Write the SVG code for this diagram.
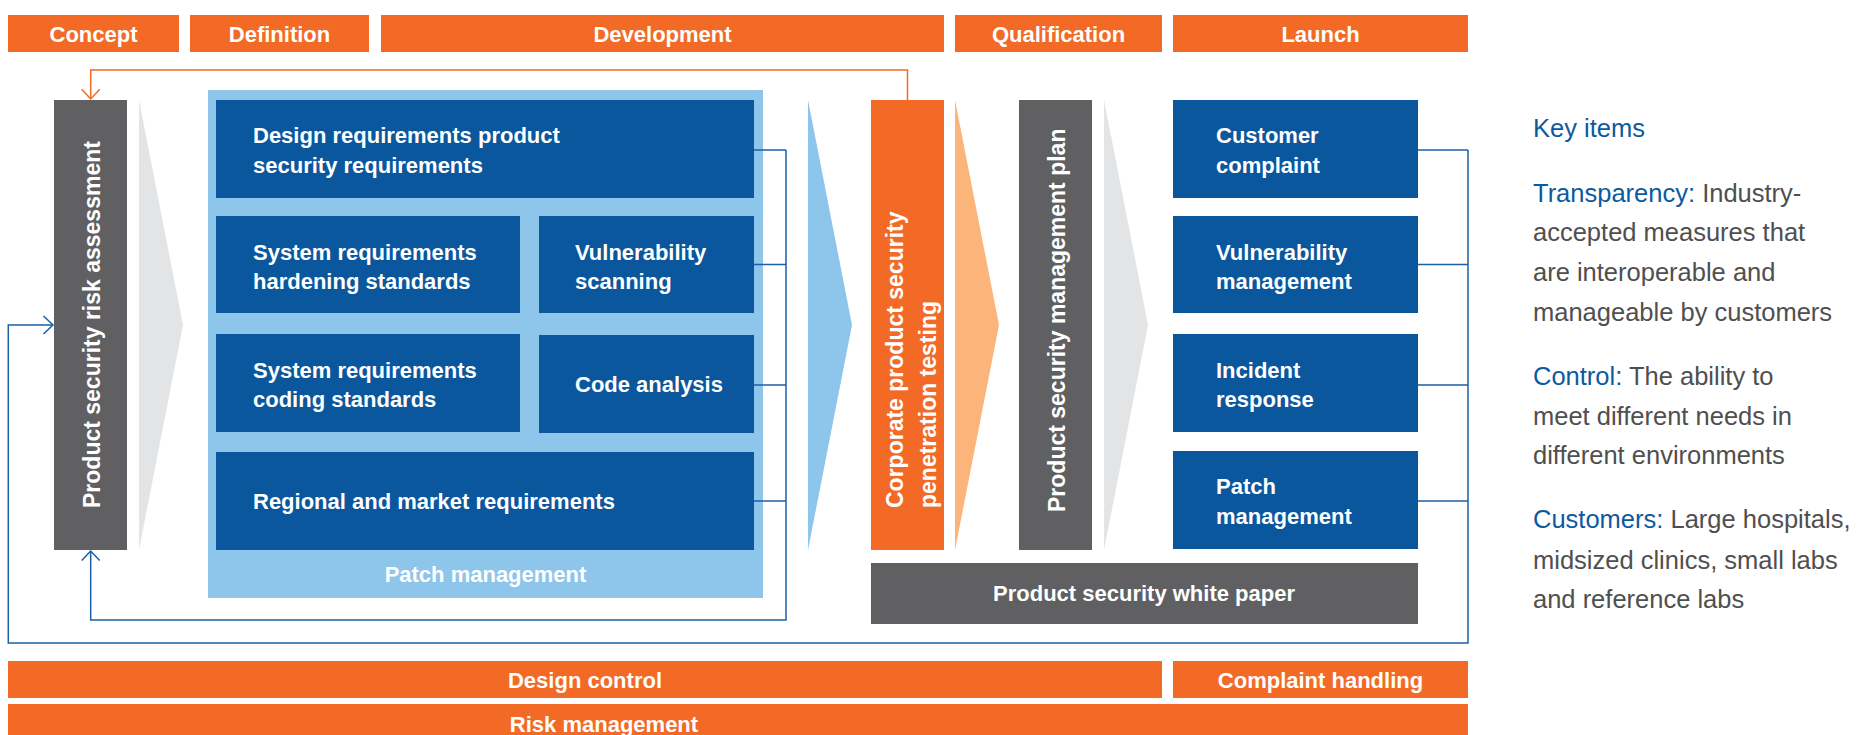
<svg xmlns="http://www.w3.org/2000/svg" width="1870" height="735" viewBox="0 0 1870 735">
<style>
.or{fill:#f26a26}
.db{fill:#0a579d}
.gr{fill:#606062}
.lb{fill:#8ec5eb}
.ht{font-family:"Liberation Sans",Arial,sans-serif;font-weight:bold;font-size:22px;fill:#fff}
.mid{text-anchor:middle}
.vt{font-family:"Liberation Sans",Arial,sans-serif;font-weight:bold;font-size:23px;fill:#fff}
.ln{fill:none;stroke:#1d5ea6;stroke-width:1.5}
.lo{fill:none;stroke:#f26a26;stroke-width:1.5}
.key{font-family:"Liberation Sans",Arial,sans-serif;font-size:25.5px;fill:#4f4f4f}
.kb{fill:#0b5aa0}
</style>
<rect width="1870" height="735" fill="#fff"/>
<g id="phases">
<g id="phase-concept"><rect class="or" x="8" y="15" width="171" height="37"/><text class="ht mid" x="93.5" y="42.3">Concept</text></g>
<g id="phase-definition"><rect class="or" x="190" y="15" width="179" height="37"/><text class="ht mid" x="279.5" y="42.3">Definition</text></g>
<g id="phase-development"><rect class="or" x="381" y="15" width="563" height="37"/><text class="ht mid" x="662.5" y="42.3">Development</text></g>
<g id="phase-qualification"><rect class="or" x="955" y="15" width="207" height="37"/><text class="ht mid" x="1058.5" y="42.3">Qualification</text></g>
<g id="phase-launch"><rect class="or" x="1173" y="15" width="295" height="37"/><text class="ht mid" x="1320.5" y="42.3">Launch</text></g>
</g>
<g id="chevrons">
<polygon points="139,100 183,325 139,550" fill="#e3e4e5"/>
<polygon points="808,100 852,325 808,550" fill="#8ec5eb"/>
<polygon points="955,100 999,325 955,550" fill="#fbb47a"/>
<polygon points="1104,100 1148,325 1104,550" fill="#e3e4e5"/>
</g>
<g id="risk-assessment"><rect class="gr" x="54" y="100" width="73" height="450"/><text class="vt" transform="translate(100,508) rotate(-90)">Product security risk assessment</text></g>
<g id="patch-container"><rect class="lb" x="208" y="90" width="555" height="508"/><text class="ht mid" x="485.5" y="582">Patch management</text></g>
<g id="design-req"><rect class="db" x="216" y="100" width="538" height="98"/><text class="ht" x="253" y="143.3">Design requirements product</text><text class="ht" x="253" y="173.3">security requirements</text></g>
<g id="hardening"><rect class="db" x="216" y="216" width="304" height="97"/><text class="ht" x="253" y="259.5">System requirements</text><text class="ht" x="253" y="289.3">hardening standards</text></g>
<g id="vuln-scan"><rect class="db" x="539" y="216" width="215" height="97"/><text class="ht" x="575" y="259.5">Vulnerability</text><text class="ht" x="575" y="289.3">scanning</text></g>
<g id="coding"><rect class="db" x="216" y="334" width="304" height="98"/><text class="ht" x="253" y="377.7">System requirements</text><text class="ht" x="253" y="406.5">coding standards</text></g>
<g id="code-analysis"><rect class="db" x="539" y="335" width="215" height="98"/><text class="ht" x="575" y="392">Code analysis</text></g>
<g id="regional"><rect class="db" x="216" y="452" width="538" height="98"/><text class="ht" x="253" y="509">Regional and market requirements</text></g>
<g id="pen-testing"><rect class="or" x="871" y="100" width="73" height="450"/><text class="vt" transform="translate(902.5,508) rotate(-90)">Corporate product security</text><text class="vt" transform="translate(935.5,508) rotate(-90)">penetration testing</text></g>
<g id="mgmt-plan"><rect class="gr" x="1019" y="100" width="73" height="450"/><text class="vt" transform="translate(1065,512) rotate(-90)">Product security management plan</text></g>
<g id="customer-complaint"><rect class="db" x="1173" y="100" width="245" height="98"/><text class="ht" x="1216" y="143.3">Customer</text><text class="ht" x="1216" y="173.3">complaint</text></g>
<g id="vuln-mgmt"><rect class="db" x="1173" y="216" width="245" height="97"/><text class="ht" x="1216" y="259.5">Vulnerability</text><text class="ht" x="1216" y="289.3">management</text></g>
<g id="incident"><rect class="db" x="1173" y="334" width="245" height="98"/><text class="ht" x="1216" y="377.7">Incident</text><text class="ht" x="1216" y="406.5">response</text></g>
<g id="patch-mgmt"><rect class="db" x="1173" y="451" width="245" height="98"/><text class="ht" x="1216" y="494.3">Patch</text><text class="ht" x="1216" y="523.5">management</text></g>
<g id="white-paper"><rect class="gr" x="871" y="563" width="547" height="61"/><text class="ht mid" x="1144" y="601">Product security white paper</text></g>
<g id="connectors">
<polyline class="lo" points="907.5,100 907.5,70 90.7,70 90.7,99"/>
<polyline class="lo" points="81.7,89.3 90.7,99 99.7,89.3"/>
<polyline class="ln" points="754,150 786,150"/>
<polyline class="ln" points="754,264.5 786,264.5"/>
<polyline class="ln" points="754,385 786,385"/>
<polyline class="ln" points="754,501 786,501"/>
<polyline class="ln" points="786,150 786,620 90.7,620 90.7,551"/>
<polyline class="ln" points="81.7,560.5 90.7,551 99.7,560.5"/>
<polyline class="ln" points="1418,150 1468,150"/>
<polyline class="ln" points="1418,264.5 1468,264.5"/>
<polyline class="ln" points="1418,385 1468,385"/>
<polyline class="ln" points="1418,501 1468,501"/>
<polyline class="ln" points="1468,150 1468,643 8.3,643 8.3,325 53,325"/>
<polyline class="ln" points="43.5,316 53,325 43.5,334"/>
</g>
<g id="bottom-bars">
<g id="design-control"><rect class="or" x="8" y="661" width="1154" height="37"/><text class="ht mid" x="585" y="688.3">Design control</text></g>
<g id="complaint-handling"><rect class="or" x="1173" y="661" width="295" height="37"/><text class="ht mid" x="1320.5" y="688.3">Complaint handling</text></g>
<g id="risk-management"><rect class="or" x="8" y="704" width="1460" height="40"/><text class="ht mid" x="604" y="731.7">Risk management</text></g>
</g>
<g id="key-items">
<text class="key kb" x="1533" y="136.7" font-size="26">Key items</text>
<text class="key" x="1533" y="201.5"><tspan class="kb">Transparency:</tspan> Industry-</text>
<text class="key" x="1533" y="241">accepted measures that</text>
<text class="key" x="1533" y="281">are interoperable and</text>
<text class="key" x="1533" y="320.5">manageable by customers</text>
<text class="key" x="1533" y="385"><tspan class="kb">Control:</tspan> The ability to</text>
<text class="key" x="1533" y="424.5">meet different needs in</text>
<text class="key" x="1533" y="463.5">different environments</text>
<text class="key" x="1533" y="528.3"><tspan class="kb">Customers:</tspan> Large hospitals,</text>
<text class="key" x="1533" y="568.5">midsized clinics, small labs</text>
<text class="key" x="1533" y="608.3">and reference labs</text>
</g>
</svg>
